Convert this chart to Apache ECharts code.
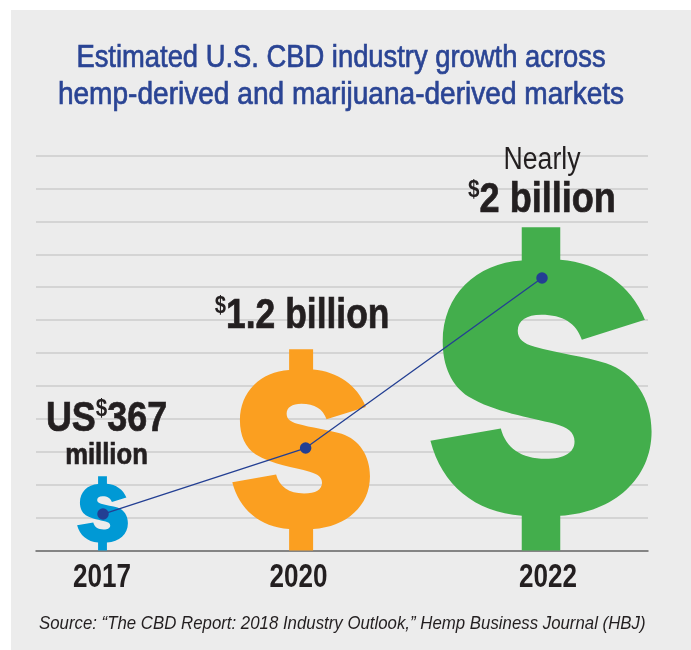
<!DOCTYPE html>
<html>
<head>
<meta charset="utf-8">
<style>html,body{margin:0;padding:0;background:#fff}#chart{width:691px;height:650px}</style>
<script src="https://cdn.jsdelivr.net/npm/echarts@6/dist/echarts.min.js"></script>
</head>
<body>
<div id="chart"></div>
<script>
// U.S. CBD market size in millions of dollars, shown as dollar signs
const years = ['2017', '2020', '2022'];
const marketMillions = [367, 1200, 2000];
const trendReadings = [119, 552, 1667];
const yearSlots = ['2017', '', '', '', '', '', '2020', '', '', '', '', '', '', '2022'];
const marketLabels = [
  '{big|US}{sup|$}{big|367}\n{mid|million}',
  '{sup|$}{big|1.2 billion}',
  '{reg|Nearly}\n{sup|$}{big|2 billion}'
];
const titleLines = ['Estimated U.S. CBD industry growth across', 'hemp-derived and marijuana-derived markets'];
const sourceNote = 'Source: \u201cThe CBD Report: 2018 Industry Outlook,\u201d Hemp Business Journal (HBJ)';

const FONT = '"Liberation Sans", sans-serif';
const INK = '#231f20';
const NAVY = '#233f93';
const TITLE_BLUE = '#2a4494';
const SIGN_COLORS = ['#0099d5', '#fb9f20', '#43ae4c'];
const SIGN_ASPECT = 0.684;
const SIGN_SHIFT = [-0.5, -4.5, -1];
const LABEL_SHIFT = [4, 1, 1];
const LABEL_GAP = [5, 11, 5];
const LABEL_SQUEEZE = [0.855, 0.844, 0.859];
const YEAR_SHIFT = [-1, -7, 6];
const VALUE_MIN = -120;

// Outline of a heavy dollar sign with stubs above and below the S
const DOLLAR_PATH = 'M306 22 L422 22 L422 120 C540 130 635 195 677 300 L487 360 ' +
  'C470 310 430 285 365 285 C320 285 294 303 294 333 C294 358 312 372 345 381 ' +
  'C410 399 500 412 560 430 C645 458 697 535 697 635 C697 775 585 878 422 888 ' +
  'L422 992 L306 992 L306 888 C165 878 65 795 31 663 L243 626 ' +
  'C258 685 305 717 378 717 C435 717 465 698 465 665 C465 638 445 623 405 612 ' +
  'C330 592 225 578 145 530 C95 498 68 440 68 365 C68 225 170 130 306 122 Z';

// Heavier strokes for the condensed bold labels
const heavy = { stroke: INK, lineWidth: 0.7 };

function renderSign(params, api) {
  const i = params.dataIndex;
  const slot = api.value(0);
  const top = api.coord([slot, api.value(1)]);
  const base = api.coord([slot, VALUE_MIN]);
  const h = base[1] - top[1];
  const w = h * SIGN_ASPECT;
  const cx = top[0] + SIGN_SHIFT[i];
  return {
    type: 'group',
    children: [
      {
        type: 'path',
        shape: { pathData: DOLLAR_PATH, x: cx - w / 2, y: top[1], width: w, height: h, layout: 'cover' },
        style: { fill: SIGN_COLORS[i] }
      },
      {
        type: 'text',
        x: cx + LABEL_SHIFT[i],
        y: top[1] - LABEL_GAP[i],
        scaleX: LABEL_SQUEEZE[i],
        style: {
          text: marketLabels[i],
          align: 'center',
          verticalAlign: 'bottom',
          fill: INK,
          rich: {
            big: Object.assign({ fontFamily: FONT, fontWeight: 'bold', fontSize: 42, lineHeight: 44, fill: INK }, heavy),
            mid: Object.assign({ fontFamily: FONT, fontWeight: 'bold', fontSize: 30, lineHeight: 30, fill: INK }, heavy),
            reg: { fontFamily: FONT, fontSize: 31, lineHeight: 36, fill: INK },
            sup: { fontFamily: FONT, fontWeight: 'bold', fontSize: 24, lineHeight: 44, verticalAlign: 'top', fill: INK }
          }
        }
      },
      {
        type: 'text',
        x: top[0] + YEAR_SHIFT[i],
        y: base[1] + 44,
        scaleX: 0.79,
        style: {
          text: years[i],
          align: 'center',
          verticalAlign: 'bottom',
          fontFamily: FONT,
          fontWeight: 'bold',
          fontSize: 33,
          fill: INK
        }
      }
    ]
  };
}

const titleText = function (line, y, squeeze) {
  return {
    type: 'text', x: 341, y: y, scaleX: squeeze, silent: true,
    style: {
      text: line, align: 'center', verticalAlign: 'bottom',
      fontFamily: FONT, fontSize: 32, fill: TITLE_BLUE, stroke: TITLE_BLUE, lineWidth: 0.7
    }
  };
};

const option = {
  animation: false,
  backgroundColor: '#ffffff',
  graphic: [
    { type: 'rect', z: -10, silent: true, shape: { x: 11, y: 10, width: 680, height: 640 }, style: { fill: '#ececec' } },
    titleText(titleLines[0], 74, 0.855),
    titleText(titleLines[1], 111, 0.877),
    {
      type: 'text', x: 39, y: 633, scaleX: 0.885, silent: true,
      style: { text: sourceNote, verticalAlign: 'bottom', fontFamily: FONT, fontStyle: 'italic', fontSize: 19, fill: INK }
    }
  ],
  grid: [
    { left: 36, right: 43, top: 155.5, bottom: 99.5 },
    { left: 103, right: 149, top: 155.5, bottom: 99.5 }
  ],
  xAxis: [
    {
      gridIndex: 0, type: 'value', min: 0, max: 1,
      axisLabel: { show: false }, axisTick: { show: false }, splitLine: { show: false },
      axisLine: { show: true, lineStyle: { color: '#6a6a6a', width: 1.5 } }
    },
    {
      gridIndex: 1, type: 'category', boundaryGap: false, data: yearSlots,
      axisLine: { show: false }, axisTick: { show: false }, axisLabel: { show: false }, splitLine: { show: false }
    }
  ],
  yAxis: [
    {
      gridIndex: 0, type: 'value', min: 0, max: 12, interval: 1,
      axisLabel: { show: false }, axisTick: { show: false }, axisLine: { show: false },
      splitLine: { show: true, lineStyle: { color: '#cdcdcd', width: 1.5 } }
    },
    {
      gridIndex: 1, type: 'value', min: VALUE_MIN, max: 2470, show: false, splitLine: { show: false }
    }
  ],
  series: [
    {
      type: 'custom', xAxisIndex: 1, yAxisIndex: 1, z: 3, silent: true,
      encode: { x: 0, y: 1 },
      renderItem: renderSign,
      data: years.map(function (y, i) { return [yearSlots.indexOf(y), marketMillions[i]]; })
    },
    {
      type: 'line', xAxisIndex: 1, yAxisIndex: 1, z: 4, silent: true, clip: false,
      symbol: 'circle', symbolSize: 11.5,
      lineStyle: { color: NAVY, width: 1.3 }, itemStyle: { color: NAVY },
      data: years.map(function (y, i) { return [yearSlots.indexOf(y), trendReadings[i]]; })
    }
  ]
};

echarts.init(document.getElementById('chart')).setOption(option);
</script>
</body>
</html>
